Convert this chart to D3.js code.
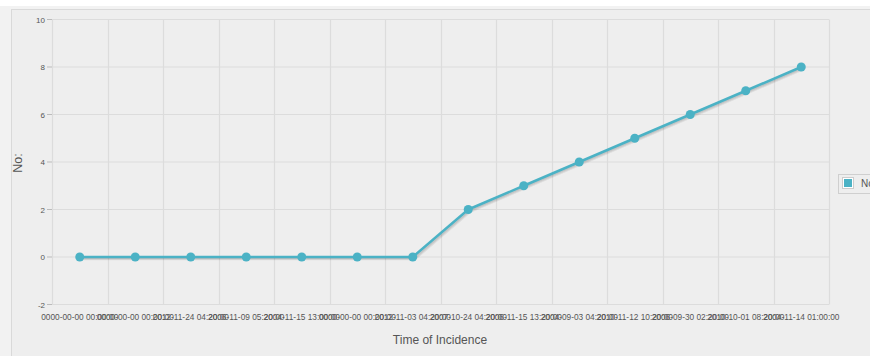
<!DOCTYPE html>
<html><head><meta charset="utf-8">
<script src="https://cdn.jsdelivr.net/npm/d3@7"></script>
<style>
html,body{margin:0;padding:0;background:#fff;overflow:hidden;}
svg{display:block;font-family:"Liberation Sans",Arial,sans-serif;}
</style></head>
<body>
<svg id="c" width="870" height="356"></svg>
<script>
const categories = ["0000-00-00 00:00:00","0000-00-00 00:00:00","2012-11-24 04:20:00","2006-11-09 05:20:00","2004-11-15 13:00:00","0000-00-00 00:00:00","2012-11-03 04:20:00","2007-10-24 04:20:00","2006-11-15 13:20:00","2004-09-03 04:20:00","2010-11-12 10:20:00","2006-09-30 02:20:00","2010-10-01 08:20:00","2004-11-14 01:00:00"];
const values = [0,0,0,0,0,0,0,2,3,4,5,6,7,8];
const yTicks = [-2,0,2,4,6,8,10];
const seriesName = "No: of Incidents";
const xTitle = "Time of Incidence";
const yTitle = "No:";

const svg = d3.select("#c");
const W = 870, H = 356;
const plot = {l:52, r:829, t:19.5, b:304.5};
const color = "#4bb2c5";

// backgrounds
svg.append("rect").attr("x",0).attr("y",0).attr("width",W).attr("height",H).attr("fill","#f2f2f2");
svg.append("rect").attr("x",0).attr("y",0).attr("width",W).attr("height",6).attr("fill","#fff");
svg.append("rect").attr("x",11.5).attr("y",9.5).attr("width",W).attr("height",H).attr("fill","#eeeeee").attr("stroke","#d9d9d9");

const x = d3.scaleBand().domain(d3.range(categories.length)).range([plot.l, plot.r]).padding(0);
const y = d3.scaleLinear().domain([-2,10]).range([plot.b, plot.t]);

const g = svg.append("g");
// grid
const bounds = d3.range(categories.length+1).map(i => i < categories.length ? x(i) : x(categories.length-1)+x.bandwidth());
g.selectAll(".vg").data(bounds).join("line")
  .attr("x1",d=>Math.round(d)+0.5).attr("x2",d=>Math.round(d)+0.5)
  .attr("y1",plot.t).attr("y2",plot.b).attr("stroke","#dcdcdc").attr("stroke-width",1.2);
g.selectAll(".hg").data(yTicks).join("line")
  .attr("x1",plot.l).attr("x2",plot.r)
  .attr("y1",d=>y(d)).attr("y2",d=>y(d)).attr("stroke","#dcdcdc").attr("stroke-width",1.2);

// y axis ticks & labels
g.selectAll(".yt").data(yTicks).join("line")
  .attr("x1",plot.l-5).attr("x2",plot.l).attr("y1",d=>y(d)).attr("y2",d=>y(d)).attr("stroke","#bbb");
g.selectAll(".yl").data(yTicks).join("text")
  .attr("x",plot.l-7).attr("y",d=>y(d)+3).attr("text-anchor","end")
  .attr("font-size",8).attr("fill","#555").text(d=>d);

// x labels
g.selectAll(".xl").data(categories).join("text")
  .attr("x",(d,i)=>x(i)+x.bandwidth()/2).attr("y",320).attr("text-anchor","middle")
  .attr("font-size",8.3).attr("fill","#555").text(d=>d);

// titles
svg.append("text").attr("x",440).attr("y",344).attr("text-anchor","middle")
  .attr("font-size",12).attr("fill","#555").text(xTitle);
svg.append("text").attr("transform","translate(22,163) rotate(-90)").attr("text-anchor","middle")
  .attr("font-size",12.5).attr("fill","#555").text(yTitle);

// line
const line = d3.line().x((d,i)=>x(i)+x.bandwidth()/2).y(d=>y(d));
for (let k=1;k<=3;k++){
  g.append("path").datum(values).attr("d",line).attr("fill","none")
    .attr("stroke","rgba(0,0,0,0.07)").attr("stroke-width",2.5)
    .attr("transform",`translate(${0.7*k},${0.7*k})`);
}
g.append("path").datum(values).attr("d",line).attr("fill","none")
  .attr("stroke",color).attr("stroke-width",2.5).attr("stroke-linejoin","round");
g.selectAll(".pt").data(values).join("circle")
  .attr("cx",(d,i)=>x(i)+x.bandwidth()/2).attr("cy",d=>y(d)).attr("r",4.5).attr("fill",color);

// legend
const lg = svg.append("g");
lg.append("rect").attr("x",838.5).attr("y",174.5).attr("width",60).attr("height",19)
  .attr("fill","#eeeeee").attr("stroke","#cfcfcf");
lg.append("rect").attr("x",842.5).attr("y",177.5).attr("width",11).attr("height",11)
  .attr("fill","#fff").attr("stroke","#ccc");
lg.append("rect").attr("x",844).attr("y",179).attr("width",8).attr("height",8).attr("fill",color);
lg.append("text").attr("x",861).attr("y",187).attr("font-size",10).attr("fill","#555").text(seriesName);
</script>
</body></html>
